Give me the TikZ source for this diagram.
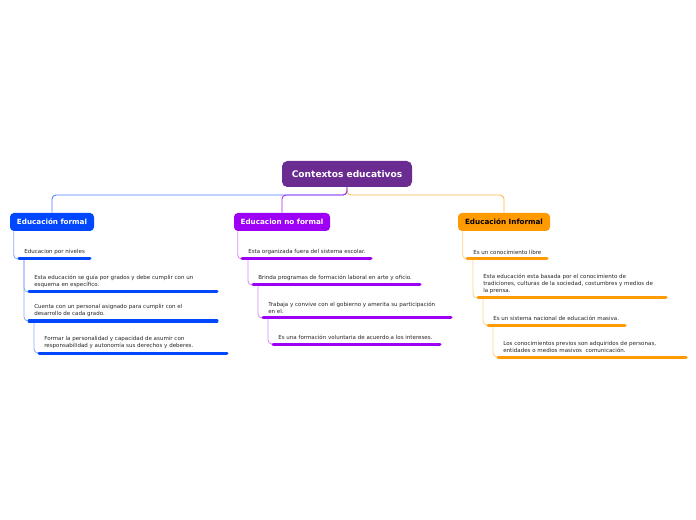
\documentclass[tikz,border=0pt]{standalone}
\usepackage{fontspec}
\setmainfont{DejaVu Sans}
\usetikzlibrary{calc}
\definecolor{rootc}{HTML}{6A2C91}
\definecolor{bluec}{HTML}{0047FF}
\definecolor{purpc}{HTML}{9D00F5}
\definecolor{orc}{HTML}{FF9A00}
\definecolor{bluel}{HTML}{8CAAFF}
\definecolor{purpl}{HTML}{D58CFF}
\definecolor{orl}{HTML}{FFD28C}
\definecolor{txt}{HTML}{262626}
\tikzset{
  mainbox/.style={rounded corners=3pt, inner sep=0pt, font=\bfseries\fontsize{5.4}{6}\selectfont, minimum height=13.5pt},
  rootbox/.style={rounded corners=4pt, fill=rootc, text=white, inner sep=0pt, minimum width=97.5pt, minimum height=19.5pt, font=\bfseries\fontsize{6.8}{7.5}\selectfont},
  sub/.style={inner sep=0pt, anchor=south west, align=left, text=txt, font=\fontsize{4.15}{5.25}\selectfont},
  ul/.style={line width=2.25pt, line cap=round},
  conn/.style={line width=0.65pt, rounded corners=3pt},
}
\begin{document}
\begin{tikzpicture}[x=0.75pt,y=-0.75pt]
\path[use as bounding box, fill=white] (0,0) rectangle (696,520);

\node[rootbox] (root) at (347,174) {Contextos educativos};
\node[mainbox, fill=bluec, text=white, minimum width=63pt] (b1) at (52,222) {Educación formal};
\node[mainbox, fill=purpc, text=white, minimum width=72pt] (b2) at (282,222) {Educacion no formal};
\node[mainbox, fill=orc, text=black, minimum width=69pt] (b3) at (504,222) {Educación Informal};

\coordinate (j) at (347,195);
\draw[conn, bluel!55!bluec] (root.south) -- (j) -| (b1.north);
\draw[conn, orc!70!white] (root.south) -- (j) -| (b3.north);
\draw[conn, purpc!85!white] (root.south) -- (j) -| (b2.north);

% column 1
\coordinate (u1a) at (19,259); \coordinate (u1b) at (90,259);
\coordinate (u2a) at (29,292); \coordinate (u2b) at (217,292);
\coordinate (u3a) at (29,321); \coordinate (u3b) at (217,321);
\coordinate (u4a) at (39,353); \coordinate (u4b) at (227,353);
\draw[conn, bluel] ($(b1.south west)+(4,0)$) |- (u1a);
\draw[conn, bluel] ($(u1a)+(5,0)$) |- (u2a);
\draw[conn, bluel] ($(u1a)+(5,0)$) |- (u3a);
\draw[conn, bluel] ($(u3a)+(5,0)$) |- (u4a);
\draw[ul, bluec] (u1a) -- (u1b);
\draw[ul, bluec] (u2a) -- (u2b);
\draw[ul, bluec] (u3a) -- (u3b);
\draw[ul, bluec] (u4a) -- (u4b);
\node[sub] (t1) at ($(u1a)+(5,-4)$) {Educacion por niveles};
\node[sub] (t2) at ($(u2a)+(5,-4)$) {Esta educación se guía por grados y debe cumplir con un\\esquema en específico.};
\node[sub] (t3) at ($(u3a)+(5,-4)$) {Cuenta con un personal asignado para cumplir con el\\desarrollo de cada grado.};
\node[sub] (t4) at ($(u4a)+(5,-4)$) {Formar la personalidad y capacidad de asumir con\\responsabilidad y autonomía sus derechos y deberes.};

% column 2
\coordinate (v1a) at (242,259); \coordinate (v1b) at (371,259);
\coordinate (v2a) at (253,285); \coordinate (v2b) at (420,285);
\coordinate (v3a) at (263,318); \coordinate (v3b) at (451,318);
\coordinate (v4a) at (273,344); \coordinate (v4b) at (440,344);
\draw[conn, purpl] ($(b2.south west)+(4,0)$) |- (v1a);
\draw[conn, purpl] ($(v1a)+(6,0)$) |- (v2a);
\draw[conn, purpl] ($(v2a)+(5,0)$) |- (v3a);
\draw[conn, purpl] ($(v3a)+(5,0)$) |- (v4a);
\draw[ul, purpc] (v1a) -- (v1b);
\draw[ul, purpc] (v2a) -- (v2b);
\draw[ul, purpc] (v3a) -- (v3b);
\draw[ul, purpc] (v4a) -- (v4b);
\node[sub] (s1) at ($(v1a)+(6,-4)$) {Esta organizada fuera del sistema escolar.};
\node[sub] (s2) at ($(v2a)+(5,-4)$) {Brinda programas de formación laboral en arte y oficio.};
\node[sub] (s3) at ($(v3a)+(5,-4)$) {Trabaja y convive con el gobierno y amerita su participación\\en el.};
\node[sub] (s4) at ($(v4a)+(5,-4)$) {Es una formación voluntaria de acuerdo a los intereses.};

% column 3
\coordinate (w1a) at (467,259); \coordinate (w1b) at (547,259);
\coordinate (w2a) at (478,298); \coordinate (w2b) at (666,298);
\coordinate (w3a) at (488,325); \coordinate (w3b) at (625,325);
\coordinate (w4a) at (498,357); \coordinate (w4b) at (686,357);
\draw[conn, orl] ($(b3.south west)+(5,0)$) |- (w1a);
\draw[conn, orl] ($(w1a)+(6,0)$) |- (w2a);
\draw[conn, orl] ($(w2a)+(5,0)$) |- (w3a);
\draw[conn, orl] ($(w3a)+(5,0)$) |- (w4a);
\draw[ul, orc] (w1a) -- (w1b);
\draw[ul, orc] (w2a) -- (w2b);
\draw[ul, orc] (w3a) -- (w3b);
\draw[ul, orc] (w4a) -- (w4b);
\node[sub] (r1) at ($(w1a)+(6,-4)$) {Es un conocimiento libre};
\node[sub] (r2) at ($(w2a)+(5,-4)$) {Esta educación esta basada por el conocimiento de\\tradiciones, culturas de la sociedad, costumbres y medios de\\la prensa.};
\node[sub] (r3) at ($(w3a)+(5,-4)$) {Es un sistema nacional de educación masiva.};
\node[sub] (r4) at ($(w4a)+(5,-4)$) {Los conocimientos previos son adquiridos de personas,\\entidades o medios masivos\ \ comunicación.};
\end{tikzpicture}
\end{document}
